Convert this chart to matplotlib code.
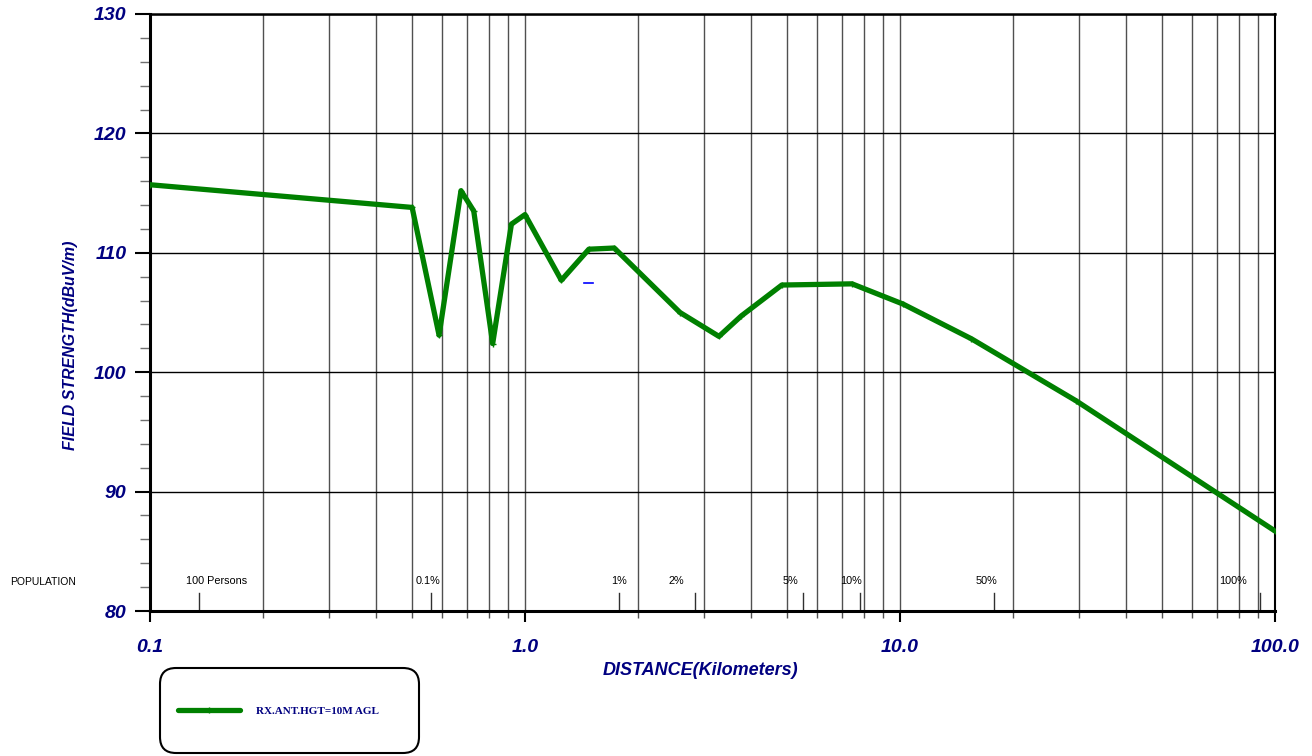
import matplotlib
matplotlib.use('Agg')
import matplotlib.pyplot as plt
from matplotlib.patches import FancyBboxPatch
from matplotlib.transforms import IdentityTransform
from matplotlib.ticker import FixedLocator, NullFormatter

# measured field strength vs distance
dist_km = [0.1, 0.5, 0.59, 0.675, 0.73, 0.82, 0.92, 1.0, 1.25, 1.48, 1.73,
           2.59, 3.29, 3.77, 4.84, 7.45, 10.2, 15.5, 29.5, 100.0]
field_dbuv = [115.7, 113.8, 103.1, 115.2, 113.5, 102.4, 112.4, 113.2, 107.7, 110.3, 110.4,
              105.0, 103.0, 104.7, 107.3, 107.4, 105.7, 102.8, 97.6, 86.7]

# small stray blue mark
stray_x = [1.44, 1.52]
stray_y = [107.5, 107.5]

# population markers along the distance axis
pop_dist = [0.135, 0.5615, 1.78, 2.84, 5.51, 7.82, 17.8, 91.2]
pop_labels = ['100 Persons', '0.1%', '1%', '2%', '5%', '10%', '50%', '100%']

x_major = [0.1, 1.0, 10.0, 100.0]
x_major_labels = ['0.1', '1.0', '10.0', '100.0']
y_major = [80, 90, 100, 110, 120, 130]

navy = '#000080'
green = '#008000'
sans = ['Liberation Sans', 'DejaVu Sans']

fig = plt.figure(figsize=(13.12, 7.56), dpi=100)
ax = fig.add_axes([150 / 1312, 1 - 611 / 756, 1125 / 1312, 597 / 756])

ax.plot(dist_km, field_dbuv, color=green, lw=3.8, marker='+', ms=4, mew=1,
        solid_capstyle='round', label='RX.ANT.HGT=10M AGL', zorder=3)
ax.plot(stray_x, stray_y, color='blue', lw=1.2, zorder=3)

ax.set_xscale('log')
ax.set_xlim(0.1, 100)
ax.set_ylim(80, 130)

ax.xaxis.set_major_locator(FixedLocator(x_major))
ax.set_xticklabels(x_major_labels)
minors = [m * d for d in [0.1, 1, 10] for m in range(2, 10)]
ax.xaxis.set_minor_locator(FixedLocator(minors))
ax.xaxis.set_minor_formatter(NullFormatter())
ax.set_yticks(y_major)
ax.set_yticks(range(80, 131, 2), minor=True)

ax.grid(True, axis='x', which='both', color='#505050', lw=1)
ax.grid(True, axis='y', which='major', color='black', lw=1)

ax.tick_params(axis='x', which='major', direction='out', length=8, width=1.5, pad=12)
ax.tick_params(axis='x', which='minor', direction='out', length=5, width=1, color='#505050')
ax.tick_params(axis='y', which='major', direction='out', length=11, width=1.5, pad=6)
ax.tick_params(axis='y', which='minor', direction='out', length=7, width=1, color='#707070')

for lab in ax.get_xticklabels() + ax.get_yticklabels():
    lab.set_family(sans)
    lab.set_fontsize(14)
    lab.set_fontweight('bold')
    lab.set_fontstyle('italic')
    lab.set_color(navy)

ax.spines['left'].set_linewidth(2.2)
ax.spines['bottom'].set_linewidth(2.2)
ax.spines['top'].set_linewidth(1.8)
ax.spines['right'].set_linewidth(1.5)

ax.set_ylabel('FIELD STRENGTH(dBuV/m)', family=sans, fontsize=11.5, fontweight='bold',
              fontstyle='italic', color=navy)
ax.yaxis.set_label_coords(-0.064, 0.445)
ax.set_xlabel('DISTANCE(Kilometers)', family=sans, fontsize=13, fontweight='bold',
              fontstyle='italic', color=navy, va='center')
ax.xaxis.set_label_coords(0.489, -0.099)

# population scale
offsets = [18, -3, 0, -19, -12, -9, -7, -27]
for x, lab, off in zip(pop_dist, pop_labels, offsets):
    ax.plot([x, x], [80, 81.5], color='#303030', lw=1, zorder=2)
    ax.annotate(lab, (x, 82.5), xytext=(off, 0), textcoords='offset pixels',
                ha='center', va='center', fontsize=7.8, family=sans)
fig.text(10 / 1312, 1 - 582 / 756, 'POPULATION', fontsize=7.5, family=sans,
         ha='left', va='center')

# legend box (drawn behind the axes so the legend stays visible)
box = FancyBboxPatch((160, 3), 259, 85, boxstyle='round,pad=0,rounding_size=16',
                     transform=IdentityTransform(), fc='white', ec='black', lw=1.5,
                     zorder=-1)
fig.patches.append(box)
ax.legend(loc='center left', bbox_to_anchor=(178 / 1312, 1 - 711 / 756),
          bbox_transform=fig.transFigure, frameon=False, borderpad=0, borderaxespad=0,
          handlelength=5.6, handletextpad=1.4, numpoints=1, labelcolor=navy,
          prop={'family': 'Liberation Serif', 'weight': 'bold', 'size': 8})

fig.savefig('out.png', dpi=100)
